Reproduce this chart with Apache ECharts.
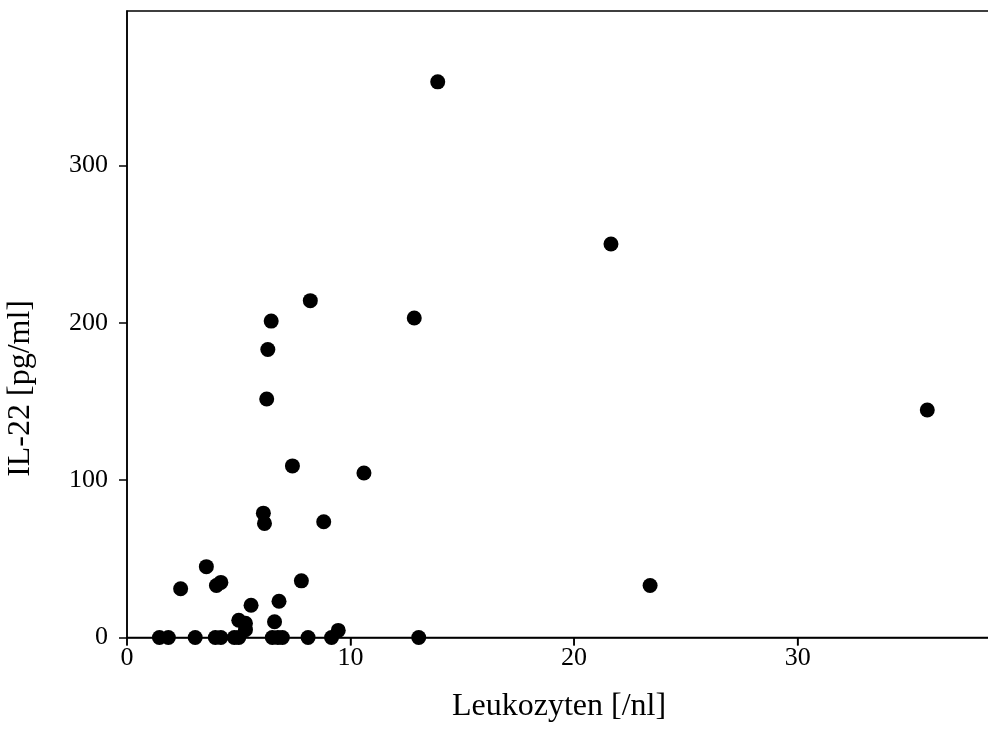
<!DOCTYPE html>
<html>
<head>
<meta charset="utf-8">
<script src="https://cdn.jsdelivr.net/npm/echarts@6/dist/echarts.min.js"></script>
<style>html,body{margin:0;padding:0;background:#fff}#c{width:988px;height:749px}</style>
</head>
<body>
<div id="c"></div>
<script>
var leukozyten = [1.45,1.85,2.4,3.05,3.55,3.95,4.0,4.2,4.2,4.8,5.0,5.0,5.3,5.3,5.55,6.1,6.15,6.25,6.3,6.45,6.5,6.6,6.75,6.8,6.95,7.4,7.8,8.1,8.2,8.8,9.15,9.45,10.6,12.85,13.05,13.9,21.65,23.4,35.8];
var il22 =       [0,   0,   31,  0,   45,  0,   33,  35,  0,   0,   0,   11,  9,   5,   20.5,79,  72.5,151.5,183,201, 0,   10,  0,   23,  0,   109, 36,  0,   214, 73.5,0,   4.5, 104.5,203,  0,    353, 250,  33,  144.5];
var xTicks = [0,10,20,30];
var yTicks = [0,100,200,300];
var xTitle = 'Leukozyten [/nl]';
var yTitle = 'IL-22 [pg/ml]';

var pts = leukozyten.map(function(x,i){return [x, il22[i]];});
var font = 'Liberation Serif, Times New Roman, serif';
var chart = echarts.init(document.getElementById('c'));
chart.setOption({
  animation:false,
  backgroundColor:'#fff',
  grid:{left:127,top:11,right:-3,bottom:111.5,containLabel:false,outerBoundsMode:'none',
    show:true,borderColor:'#000',borderWidth:1.5,backgroundColor:'transparent'},
  xAxis:{
    type:'value', min:0, max:38.65, interval:10,
    axisLine:{show:true,onZero:false,lineStyle:{color:'#000',width:1.5}},
    axisTick:{show:true,inside:false,length:8,lineStyle:{color:'#000',width:1.5}},
    axisLabel:{color:'#000',fontFamily:font,fontSize:26,margin:8,showMaxLabel:false,
      formatter:function(v){return xTicks.indexOf(v)>=0?String(v):'';}},
    splitLine:{show:false},
    name:xTitle,nameLocation:'middle',nameGap:53,
    nameTextStyle:{color:'#000',fontFamily:font,fontSize:32}
  },
  yAxis:{
    type:'value', min:0, max:398,
    axisLine:{show:true,onZero:false,lineStyle:{color:'#000',width:1.5}},
    axisTick:{show:true,inside:false,length:8,customValues:yTicks,lineStyle:{color:'#000',width:1.5}},
    axisLabel:{color:'#000',fontFamily:font,fontSize:26,margin:19,customValues:yTicks},
    splitLine:{show:false}
  },
  series:[{
    type:'scatter', data:pts, symbol:'circle', symbolSize:15, z:2,
    itemStyle:{color:'#000',opacity:1}
  }]
});

// x-axis tick marks positioned through the library's own scale
var tickGraphics = xTicks.map(function(v){
  var p = chart.convertToPixel({xAxisIndex:0, yAxisIndex:0}, [v, 0]);
  return {
    type:'line', silent:true, z:50,
    shape:{x1:p[0], y1:p[1], x2:p[0], y2:p[1]+8},
    style:{stroke:'#000', lineWidth:1.5}
  };
});
tickGraphics.push({
  type:'text', left:5, top:300, rotation:Math.PI/2,
  style:{text:yTitle, fill:'#000', font:'32px '+font}
});
chart.setOption({graphic:tickGraphics});
</script>
</body>
</html>
